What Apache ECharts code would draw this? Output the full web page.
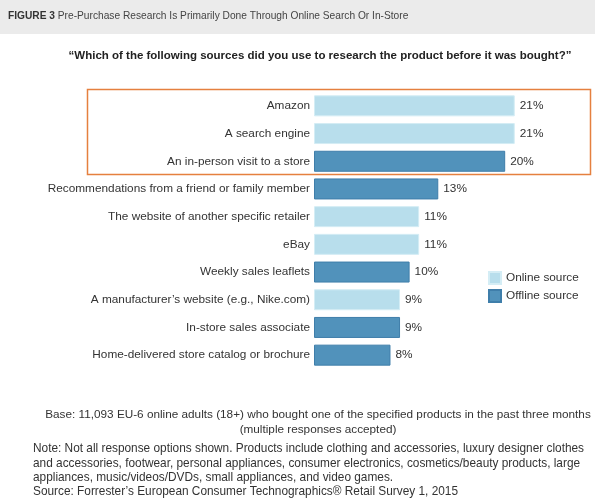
<!DOCTYPE html>
<html><head><meta charset="utf-8">
<script src="https://cdn.jsdelivr.net/npm/echarts@6/dist/echarts.min.js"></script>
<style>html,body{margin:0;padding:0;background:#fff}#c{width:595px;height:504px}</style>
</head><body><div id="c"></div>
<script>
var categories = ["Amazon","A search engine","An in-person visit to a store","Recommendations from a friend or family member","The website of another specific retailer","eBay","Weekly sales leaflets","A manufacturer\u2019s website (e.g., Nike.com)","In-store sales associate","Home-delivered store catalog or brochure"];
var online = [21,21,'-','-',11,11,'-',9,'-','-'];
var offline = ['-','-',20,13,'-','-',10,'-',9,8];
var F = '"Liberation Sans", Arial, sans-serif';
var chart = echarts.init(document.getElementById('c'), null, {renderer:'canvas'});
var lbl = {show:true, position:'right', distance:5, formatter:'{c}%', color:'#333', fontSize:11.8, fontFamily:F};
chart.setOption({
  animation:false,
  textStyle:{fontFamily:F},
  graphic:[
    {type:'rect', shape:{x:0,y:0,width:595,height:34}, style:{fill:'#ebebeb'}, z:-10},
    {type:'rect', shape:{x:87.5,y:89.5,width:503,height:85}, style:{fill:'none', stroke:'#e5803f', lineWidth:1.5}, z:10}
  ],
  title:[
    {text:'{b|FIGURE 3} Pre-Purchase Research Is Primarily Done Through Online Search Or In-Store', left:8, top:11, padding:0,
     textStyle:{fontSize:10.2, fontWeight:'normal', color:'#444', fontFamily:F, rich:{b:{fontWeight:'bold', fontSize:10.2, color:'#333', fontFamily:F}}}},
    {text:'\u201cWhich of the following sources did you use to research the product before it was bought?\u201d', left:320, top:50, padding:0, textAlign:'center',
     textStyle:{fontSize:11.5, fontWeight:'bold', color:'#222', fontFamily:F}},
    {text:'Base: 11,093 EU-6 online adults (18+) who bought one of the specified products in the past three months\n(multiple responses accepted)', left:318, top:407, padding:0, textAlign:'center',
     textStyle:{fontSize:11.75, fontWeight:'normal', color:'#333', lineHeight:15, fontFamily:F}},
    {text:'Note: Not all response options shown. Products include clothing and accessories, luxury designer clothes\nand accessories, footwear, personal appliances, consumer electronics, cosmetics/beauty products, large\nappliances, music/videos/DVDs, small appliances, and video games.\nSource: Forrester\u2019s European Consumer Technographics\u00ae Retail Survey 1, 2015', left:33, top:442, padding:0,
     textStyle:{fontSize:11.85, fontWeight:'normal', color:'#333', lineHeight:14.3, fontFamily:F}}
  ],
  legend:{orient:'vertical', left:488, top:271, padding:0, itemWidth:12, itemHeight:12, itemGap:4, icon:'rect',
    textStyle:{fontSize:11.8, color:'#333', fontFamily:F}, data:['Online source','Offline source']},
  grid:{left:314, top:92, width:239, height:277, containLabel:false},
  xAxis:{type:'value', min:0, max:25, show:false},
  yAxis:{type:'category', data:categories, inverse:true,
    axisLine:{show:false}, axisTick:{show:false},
    axisLabel:{margin:4, color:'#333', fontSize:11.8, fontFamily:F}},
  series:[
    {name:'Online source', type:'bar', stack:'a', data:online, barWidth:21,
     itemStyle:{color:'#b8deec', borderColor:'#d4edf5', borderWidth:1}, label:lbl},
    {name:'Offline source', type:'bar', stack:'a', data:offline, barWidth:21,
     itemStyle:{color:'#5192bb', borderColor:'#3f7eaa', borderWidth:1}, label:lbl}
  ]
});
</script></body></html>
